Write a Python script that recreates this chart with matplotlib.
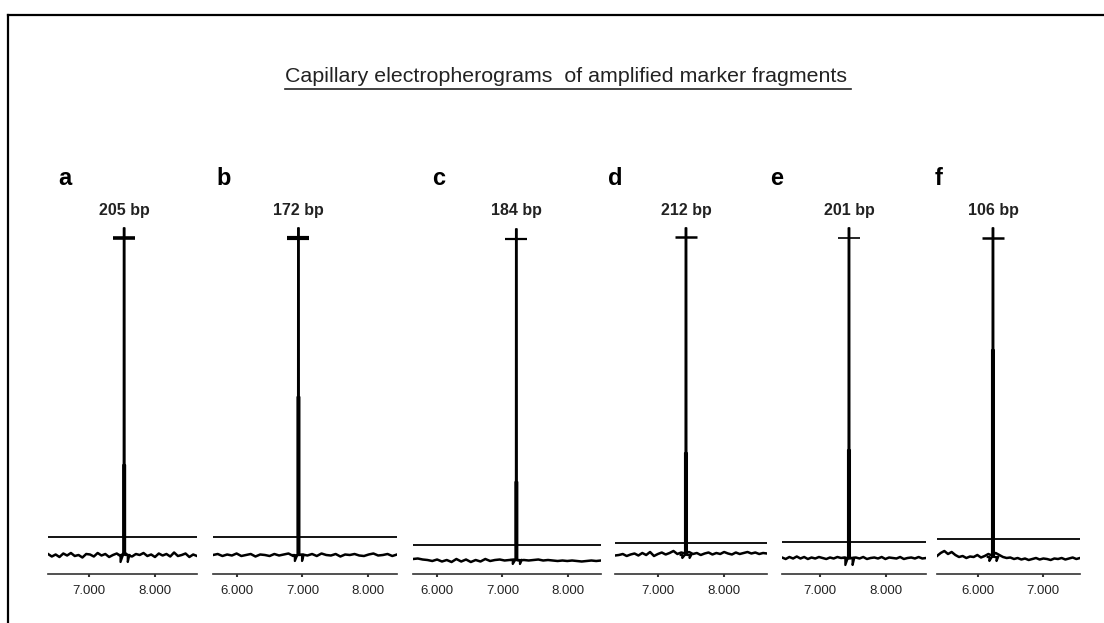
import numpy as np
import matplotlib
matplotlib.use("Agg")
import matplotlib.pyplot as plt
from matplotlib.lines import Line2D
import matplotlib.transforms as mtransforms

plt.rcParams['font.family'] = ['Liberation Sans', 'DejaVu Sans']

# ---- data (x in scan units, y in RFU) ----
labels = ["a", "b", "c", "d", "e", "f"]
sizes = ["205 bp", "172 bp", "184 bp", "212 bp", "201 bp", "106 bp"]
xmins = [6380, 5635, 5635, 6350, 6425, 5370]
xmaxs = [8640, 8445, 8505, 8650, 8605, 7570]
ticks = [[7000, 8000], [6000, 7000, 8000], [6000, 7000, 8000],
         [7000, 8000], [7000, 8000], [6000, 7000]]
peak_x = [7535, 6940, 7213, 7424, 7439, 6231]
peak_top = [3460, 3460, 3450, 3460, 3460, 3460]
peak_call = [3360, 3360, 3350, 3370, 3360, 3360]
upper_base = [370, 370, 290, 310, 320, 350]
lower_base = [190, 190, 140, 190, 160, 170]
lower_peak = [1090, 1770, 920, 1210, 1240, 2240]
lower_dip = [120, 130, 100, 160, 90, 130]

# lower trace noise (RFU offsets from baseline)
noise_a = [10, -15, 5, -20, 15, -5, 20, -10, 0, -25, 10, 5, -15, 20, -5, 10, -20, 0, 15, -10,
           25, -5, -15, 10, 0, 20, -10, 5, -20, 15, -5, 10, -15, 25, -10, 0, 15, -20, 5, -10]
noise_b = [0, 10, -10, 5, -5, 15, -10, 0, 10, -15, 5, 0, -10, 10, -5, 5, 15, -10, 0, 5,
           -5, 10, -10, 15, 0, -5, 10, -15, 5, 0, 10, -5, -10, 5, 15, -5, 0, 10, -10, 5]
noise_c = [10, 15, 5, 0, -10, 5, -15, 0, -20, 10, -15, 5, -20, 0, -15, 10, -10, 0, 5, -5,
           0, 5, -5, 0, -5, 0, 5, -5, 0, -5, -10, -5, -10, -5, -10, -15, -10, -5, -10, -5]
noise_d = [-5, 0, 10, -10, 5, 15, -5, 20, 0, 30, -10, 10, 25, 5, 20, 40, 10, 25, 15, 30,
           10, 20, 0, 15, 25, 5, 20, 10, 30, 15, 5, 25, 10, 20, 30, 15, 25, 10, 20, 15]
noise_e = [5, -10, 10, -5, 15, -5, 10, -10, 5, -5, 10, 0, -10, 5, -5, 10, 0, 5, -5, 0,
           5, -5, 10, -10, 0, 5, -5, 10, -10, 5, 0, -5, 10, -10, 0, 5, -5, 10, -5, 0]
noise_f = [10, 40, 60, 30, 50, 20, 0, 10, -10, 5, 0, 20, -5, 10, 30, 15, 40, 20, 0, -10,
           -5, -20, -10, -25, -15, -30, -20, -10, -25, -15, -20, -30, -15, -20, -10, -25, -15, -5, -20, -10]
noises = [noise_a, noise_b, noise_c, noise_d, noise_e, noise_f]

# horizontal placement of each panel (pixels of the 1104x623 figure)
panel_px = [(48, 197), (213, 397), (413, 601), (615, 767), (782, 926), (937, 1080)]
label_dx = [0.067, 0.02, 0.10, -0.046, -0.083, -0.014]
bar_lw = [2.6, 3.0, 1.6, 1.8, 1.2, 1.8]

W, H = 1104, 623
fig = plt.figure(figsize=(W / 100, H / 100), dpi=100)

bottom_px, top_px = 574, 224
for i in range(6):
    l, r = panel_px[i]
    ax = fig.add_axes([l / W, (H - bottom_px) / H, (r - l) / W, (bottom_px - top_px) / H])
    ax.set_xlim(xmins[i], xmaxs[i])
    ax.set_ylim(0, 3500)
    for s in ["top", "right", "left"]:
        ax.spines[s].set_visible(False)
    ax.spines["bottom"].set_linewidth(1.2)
    ax.spines["bottom"].set_color("#333333")
    ax.set_yticks([])
    ax.set_xticks(ticks[i])
    ax.set_xticklabels([f"{t // 1000}.000" for t in ticks[i]], fontsize=9.5, color="#222222")
    ax.tick_params(axis="x", length=2, width=1.5, color="#333333", pad=6)

    px = peak_x[i]
    b0, b1 = lower_base[i], upper_base[i]

    # lower (noisy) trace
    xs = np.linspace(xmins[i], xmaxs[i], len(noises[i]))
    ys = b0 + np.array(noises[i])
    ax.plot(xs, ys, color="black", lw=1.8)
    ax.plot([px - 80, px - 55, px - 55, px - 18, px - 14, px - 14, px + 14, px + 14,
             px + 18, px + 55, px + 55, px + 80],
            [b0, b0, lower_dip[i], b0, b0, lower_peak[i], lower_peak[i], b0,
             b0, b0, lower_dip[i], b0],
            color="black", lw=1.6)

    # upper trace with the called peak
    ax.plot([xmins[i], px - 10, px - 8, px + 8, px + 10, xmaxs[i]],
            [b1, b1, peak_top[i], peak_top[i], b1, b1],
            color="black", lw=1.3)
    ax.plot([px], [peak_call[i]], marker="_", markersize=16, mew=bar_lw[i], color="black")

    ax.text(label_dx[i], 1.111, labels[i], transform=ax.transAxes, fontsize=17,
            fontweight="bold", ha="left", va="baseline")
    trans = mtransforms.blended_transform_factory(ax.transData, ax.transAxes)
    ax.text(px, 1.026, sizes[i], transform=trans, fontsize=11.5, fontweight="bold",
            ha="center", va="baseline", color="#222222")

title = fig.text(566 / W, 1 - 77 / H, "Capillary electropherograms  of amplified marker fragments",
                 fontsize=15.4, ha="center", va="center", color="#222222")
fig.canvas.draw()
bb = title.get_window_extent().transformed(fig.transFigure.inverted())
fig.add_artist(Line2D([bb.x0, bb.x1 + 4 / W], [bb.y0 - 2 / H, bb.y0 - 2 / H], color="#222222", lw=1.2))

# frame lines (left and top only)
fig.add_artist(Line2D([8 / W, 8 / W], [0, 1 - 15 / H], color="black", lw=1.6))
fig.add_artist(Line2D([8 / W, 1], [1 - 15 / H, 1 - 15 / H], color="black", lw=1.6))

fig.savefig("out.png", dpi=100, facecolor="white")
